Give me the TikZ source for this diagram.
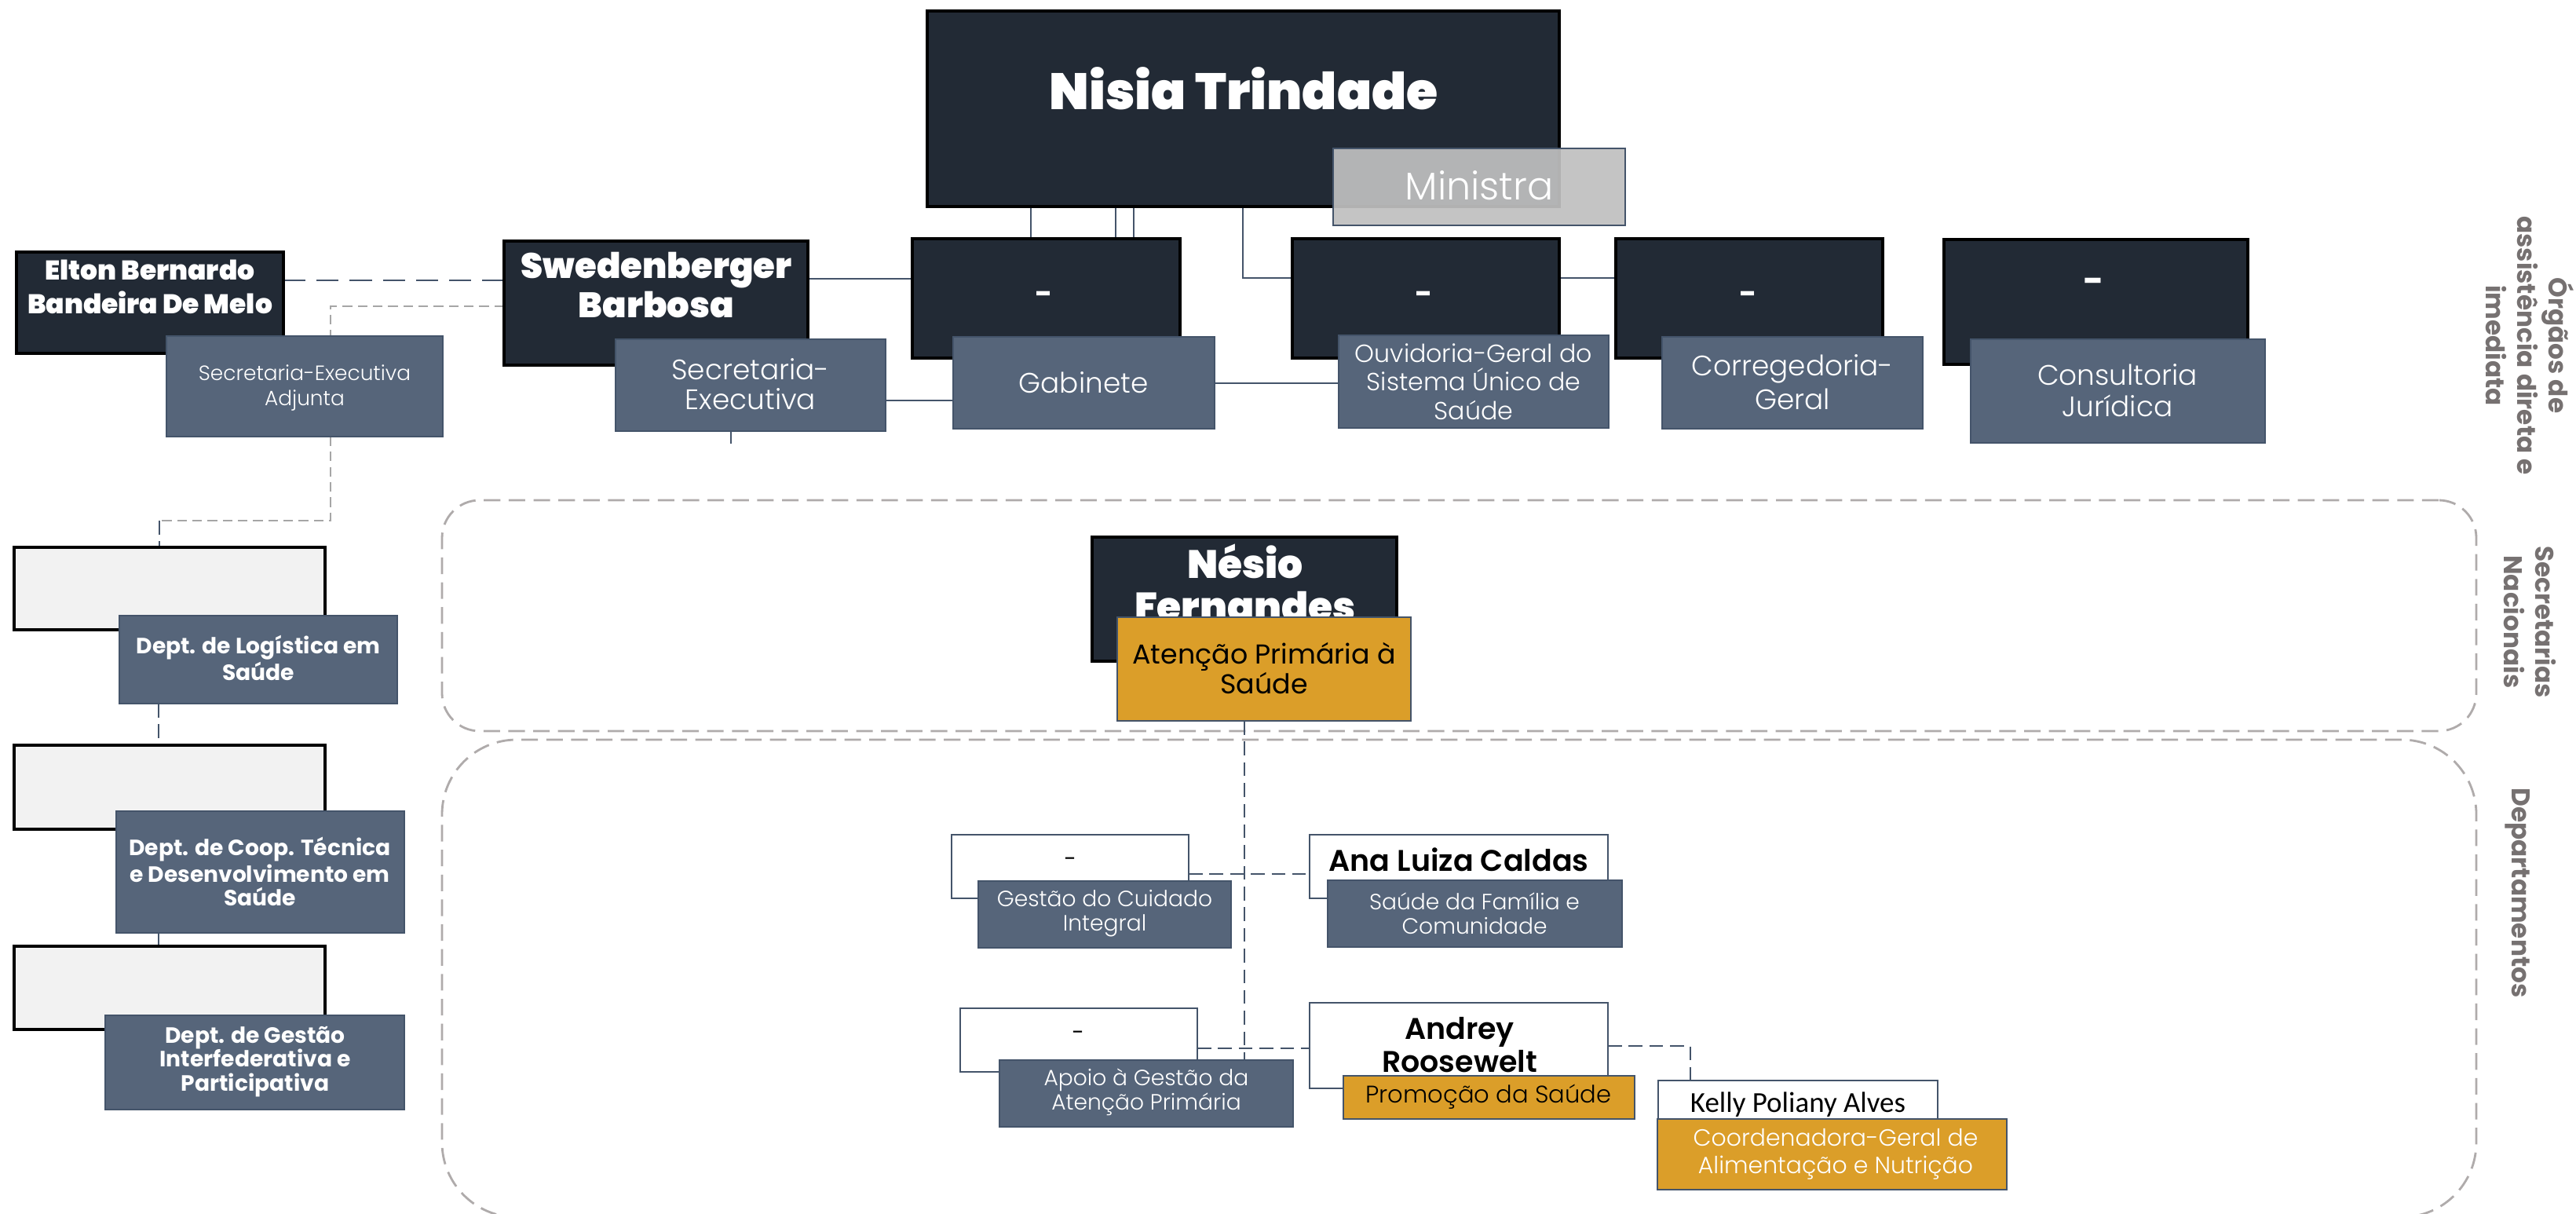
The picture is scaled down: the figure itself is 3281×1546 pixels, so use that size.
\documentclass[tikz,border=0pt]{standalone}
\usepackage{fontspec}
\setmainfont{Poppins}
\newfontfamily\popreg{Poppins}
\newfontfamily\carl{Carlito}
\IfFontExistsTF{Poppins Black}{\newfontfamily\popblackf{Poppins Black}\newcommand\popblack{\popblackf}}{%
  \IfFontExistsTF{Poppins ExtraBold}{\newfontfamily\popblackf{Poppins ExtraBold}\newcommand\popblack{\popblackf}}{%
    \newfontfamily\popblackf{Poppins}[FakeBold=1.6]\newcommand\popblack{\popblackf\bfseries}}}
\IfFontExistsTF{Poppins Light}{\newfontfamily\poplight{Poppins Light}}{\newcommand\poplight{\popreg}}
\IfFontExistsTF{Poppins SemiBold}{\newfontfamily\popsemi{Poppins SemiBold}}{\newcommand\popsemi{\popreg\bfseries}}
\newcommand\popbold{\popreg\bfseries}
\newcommand\fs[2]{\fontsize{#1}{#2}\selectfont}
\definecolor{darkc}{HTML}{222A35}
\definecolor{slatec}{HTML}{56657A}
\definecolor{slateb}{HTML}{44546A}
\definecolor{goldc}{HTML}{DB9E29}
\definecolor{lightc}{HTML}{F2F2F2}
\definecolor{ming}{HTML}{BFBFBF}
\definecolor{regionc}{HTML}{AFABAB}
\definecolor{gdotc}{HTML}{A6A6A6}
\definecolor{vtext}{HTML}{767171}
\pgfdeclarelayer{bg}
\pgfsetlayers{bg,main}
\tikzset{
  sz/.style 2 args={minimum width=#1*0.01cm, minimum height=#2*0.01cm},
  bx/.style={anchor=north west, inner sep=0pt, outer sep=0pt},
  darkbox/.style={bx, fill=darkc, draw=black, line width=0.9pt},
  slatebox/.style={bx, fill=slatec, draw=slateb, line width=0.6pt},
  goldbox/.style={bx, fill=goldc, draw=slateb, line width=0.8pt},
  whitebox/.style={bx, fill=white, draw=slateb, line width=0.7pt},
  lightbox/.style={bx, fill=lightc, draw=black, line width=0.9pt},
  minbox/.style={bx, fill=ming, fill opacity=0.93, draw=slateb, line width=0.8pt},
  regionbox/.style={bx, draw=regionc, line width=0.8pt, dash pattern=on 6pt off 3pt},
  txt/.style={inner sep=0pt, align=center},
  wtxt/.style={txt, text=white},
  btxt/.style={txt, text=black},
  conn/.style={draw=slateb, line width=0.8pt},
  dconn/.style={conn, dash pattern=on 5pt off 2.5pt},
  ldconn/.style={conn, dash pattern=on 8pt off 4pt},
  gdot/.style={draw=gdotc, line width=0.7pt, dash pattern=on 3.5pt off 2pt},
  vlab/.style={txt, text=vtext, rotate=-90, font=\popbold\fs{9.3}{11.4}},
  dashmark/.style={wtxt, font=\popbold\fs{11}{12}},
  wdash/.style={btxt, font=\popreg\fs{8}{9}},
}
\begin{document}
\begin{tikzpicture}[x=0.01cm, y=-0.01cm]
\useasboundingbox (0,0) rectangle (3281,1546);

% ---- top row ----
\node[darkbox, sz={805}{249}] (nisia) at (1181,14) {};
\node[wtxt, font=\popblack\fs{18.5}{20}] (tnisia) at (1584,113) {Nisia Trindade};
\node[minbox, sz={372}{98}] (min) at (1698,189) {};
\node[wtxt, font=\poplight\fs{14}{16}] (tmin) at (1884,236) {Ministra};

\node[darkbox, sz={340}{129}] (elton) at (21,321) {};
\node[wtxt, font=\popblack\fs{9.8}{12.2}] (telton) at (191,365) {Elton Bernardo\\Bandeira De Melo};
\node[slatebox, sz={352}{128}] (sea) at (212,428) {};
\node[wtxt, font=\poplight\fs{7.5}{9.1}] (tsea) at (388,494) {Secretaria-Executiva\\Adjunta};

\node[darkbox, sz={387}{158}] (swed) at (642,307) {};
\node[wtxt, font=\popblack\fs{12.8}{14.2}] (tswed) at (836,363) {Swedenberger\\Barbosa};
\node[slatebox, sz={344}{117}] (se) at (784,432) {};
\node[wtxt, font=\poplight\fs{10.2}{10.8}] (tse) at (956,489) {Secretaria-\\Executiva};

\node[darkbox, sz={341}{152}] (gabd) at (1162,304) {};
\node[dashmark] (tgabd) at (1330,379) {-};
\node[slatebox, sz={333}{117}] (gabl) at (1214,429) {};
\node[wtxt, font=\poplight\fs{10.2}{11}] (tgabl) at (1380,487) {Gabinete};

\node[darkbox, sz={340}{152}] (ouvd) at (1646,304) {};
\node[dashmark] (touvd) at (1814,379) {-};
\node[slatebox, sz={344}{118}] (ouvl) at (1705,427) {};
\node[wtxt, font=\poplight\fs{9}{10.4}] (touvl) at (1877,486) {Ouvidoria-Geral do\\Sistema Único de\\Saúde};

\node[darkbox, sz={340}{152}] (cord) at (2058,304) {};
\node[dashmark] (tcord) at (2227,379) {-};
\node[slatebox, sz={332}{117}] (corl) at (2117,429) {};
\node[wtxt, font=\poplight\fs{10.2}{12.2}] (tcorl) at (2283,487) {Corregedoria-\\Geral};

\node[darkbox, sz={387}{159}] (consd) at (2476,305) {};
\node[dashmark, font=\popbold\fs{13}{14}] (tconsd) at (2667,364) {-};
\node[slatebox, sz={375}{132}] (consl) at (2510,432) {};
\node[wtxt, font=\poplight\fs{10.2}{11.4}] (tconsl) at (2697,497) {Consultoria\\Jurídica};

% ---- left column ----
\node[lightbox, sz={396}{105}] (b1) at (18,697) {};
\node[slatebox, sz={354}{112}] (d1) at (152,784) {};
\node[wtxt, font=\popbold\fs{8}{8.5}] (td1) at (329,838) {Dept. de Logística em\\Saúde};
\node[lightbox, sz={396}{107}] (b2) at (18,949) {};
\node[slatebox, sz={367}{155}] (d2) at (148,1033) {};
\node[wtxt, font=\popbold\fs{8}{8.5}] (td2) at (331,1110) {Dept. de Coop. Técnica\\e Desenvolvimento em\\Saúde};
\node[lightbox, sz={396}{106}] (b3) at (18,1205) {};
\node[slatebox, sz={381}{120}] (d3) at (134,1293) {};
\node[wtxt, font=\popbold\fs{8}{8.7}] (td3) at (325,1352) {Dept. de Gestão\\Interfederativa e\\Participativa};

% ---- secretaria nacional ----
\node[darkbox, sz={388}{158}] (nes) at (1391,684) {};
\node[wtxt, font=\popblack\fs{14.3}{15.2}] (tnes) at (1586,742) {Nésio\\Fernandes};
\node[goldbox, sz={374}{132}] (aten) at (1423,786) {};
\node[btxt, font=\popreg\fs{9.9}{10.8}] (taten) at (1610,851) {Atenção Primária à\\Saúde};

% ---- departamentos ----
\node[whitebox, sz={302}{81}] (g1) at (1212,1063) {};
\node[wdash] (tg1) at (1363,1098) {-};
\node[slatebox, sz={322}{85}] (gesl) at (1246,1122) {};
\node[wtxt, font=\poplight\fs{8}{8.8}] (tgesl) at (1407,1163) {Gestão do Cuidado\\Integral};

\node[whitebox, sz={380}{81}] (ana) at (1668,1063) {};
\node[btxt, font=\popsemi\fs{10.8}{12}] (tana) at (1858,1095) {Ana Luiza Caldas};
\node[slatebox, sz={375}{85}] (sfl) at (1691,1121) {};
\node[wtxt, font=\poplight\fs{8}{8.8}] (tsfl) at (1878,1163) {Saúde da Família e\\Comunidade};

\node[whitebox, sz={302}{81}] (g2) at (1223,1284) {};
\node[wdash] (tg2) at (1373,1319) {-};
\node[slatebox, sz={374}{85}] (apl) at (1273,1350) {};
\node[wtxt, font=\poplight\fs{8}{8.8}] (tapl) at (1460,1391) {Apoio à Gestão da\\Atenção Primária};

\node[whitebox, sz={380}{109}] (andr) at (1668,1277) {};
\node[btxt, font=\popsemi\fs{10.8}{12}] (tandr) at (1859,1331) {Andrey\\Roosewelt};
\node[goldbox, sz={371}{55}] (prol) at (1711,1370) {};
\node[btxt, font=\poplight\fs{8.7}{10}] (tprol) at (1896,1397) {Promoção da Saúde};

\node[whitebox, sz={356}{60}] (kel) at (2112,1376) {};
\node[btxt, font=\carl\fs{10.5}{12}] (tkel) at (2290,1407) {Kelly Poliany Alves};
\node[goldbox, sz={445}{90}] (coo) at (2111,1425) {};
\node[wtxt, font=\poplight\fs{8.5}{10}] (tcoo) at (2338,1470) {Coordenadora-Geral de\\Alimentação e Nutrição};

% ---- side labels ----
\node[vlab] (v1) at (3222,440) {Órgãos de\\assistência direta e\\imediata};
\node[vlab] (v2) at (3222,792) {Secretarias\\Nacionais};
\node[vlab] (v3) at (3207,1137) {Departamentos};

\coordinate (c1) at (421,663);
\coordinate (c2) at (203,663);
\coordinate (sestub) at (931,565);

\begin{pgfonlayer}{bg}
  \node[regionbox, rounded corners=0.48cm, sz={2591}{294}] (reg1) at (563,637) {};
  \node[regionbox, rounded corners=0.95cm, sz={2591}{608}] (reg2) at (563,942) {};
  % top connectors
  \draw[conn] (1313,0 |- nisia.south) -- (1313,0 |- gabd.north);
  \draw[conn] (1421,0 |- nisia.south) -- (1421,0 |- gabd.north);
  \draw[conn] (1444,0 |- nisia.south) -- (1444,0 |- gabd.north);
  \draw[conn] (1583,0 |- nisia.south) |- (ouvd.west |- 0,354);
  \draw[conn] (swed.east |- 0,355) -- (gabd.west |- 0,355);
  \draw[conn] (se.east |- 0,510) -- (gabl.west |- 0,510);
  \draw[conn] (gabl.east |- 0,488) -- (ouvl.west |- 0,488);
  \draw[conn] (ouvd.east |- 0,354) -- (cord.west |- 0,354);
  \draw[conn] (sestub |- se.south) -- (sestub);
  \draw[ldconn] (elton.east |- 0,357) -- (swed.west |- 0,357);
  % left column
  \draw[gdot] (swed.west |- 0,390) -| (c1) -- (c2);
  \draw[dconn] (c2) -- (c2 |- b1.north);
  \draw[dconn] (202,0 |- d1.south) -- (202,0 |- b2.north);
  \draw[conn] (202,0 |- d2.south) -- (202,0 |- b3.north);
  % departamentos
  \draw[dconn] (1585,0 |- aten.south) -- (1585,0 |- apl.north);
  \draw[dconn] (g1.east |- 0,1113) -- (ana.west |- 0,1113);
  \draw[dconn] (g2.east |- 0,1335) -- (andr.west |- 0,1335);
  \draw[dconn] (andr.east |- 0,1332) -| (2153,0 |- kel.north);
\end{pgfonlayer}
\end{tikzpicture}
\end{document}
